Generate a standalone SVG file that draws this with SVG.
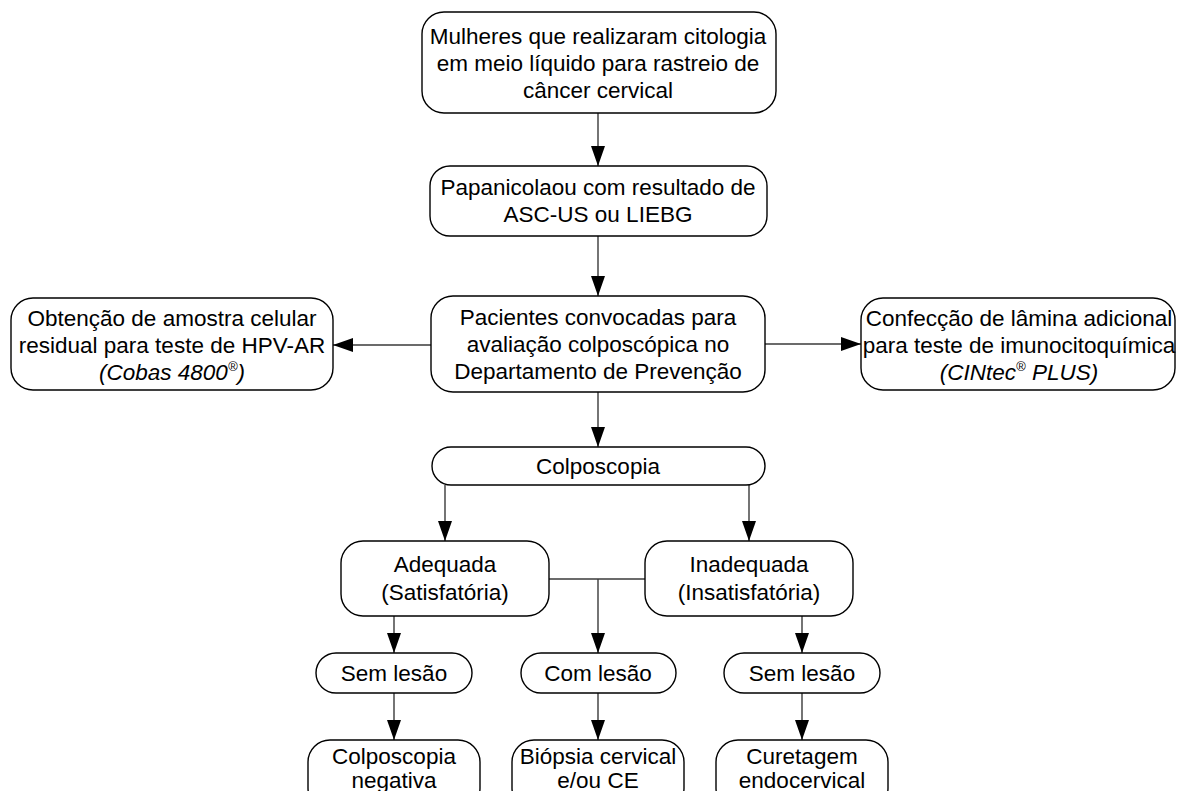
<svg xmlns="http://www.w3.org/2000/svg" width="1178" height="791" viewBox="0 0 1178 791">
<defs>
<style>
.box{fill:#fff;stroke:#000;stroke-width:1.4}
.t{font-family:"Liberation Sans",Arial,sans-serif;font-size:22.5px;fill:#000;text-anchor:middle}
.i{font-style:italic}
.c{fill:none;stroke:#3a3a3a;stroke-width:1.4}
</style>
<marker id="ah" viewBox="0 0 20 14" refX="20" refY="7" markerWidth="20" markerHeight="14" markerUnits="userSpaceOnUse" orient="auto">
<path d="M0,0 L20,7 L0,14 z" fill="#000"/>
</marker>
</defs>
<rect width="1178" height="791" fill="#fff"/>
<g id="connectors">
<path class="c" d="M598,113 V166" marker-end="url(#ah)"/>
<path class="c" d="M598,236 V296" marker-end="url(#ah)"/>
<path class="c" d="M431,345 H333" marker-end="url(#ah)"/>
<path class="c" d="M765,344 H861" marker-end="url(#ah)"/>
<path class="c" d="M598,392 V447" marker-end="url(#ah)"/>
<path class="c" d="M445,485 V541" marker-end="url(#ah)"/>
<path class="c" d="M749,485 V541" marker-end="url(#ah)"/>
<path class="c" d="M549,579 H645"/>
<path class="c" d="M598,579 V653" marker-end="url(#ah)"/>
<path class="c" d="M394,616 V653" marker-end="url(#ah)"/>
<path class="c" d="M802,616 V653" marker-end="url(#ah)"/>
<path class="c" d="M394,693 V740" marker-end="url(#ah)"/>
<path class="c" d="M598,693 V740" marker-end="url(#ah)"/>
<path class="c" d="M802,693 V740" marker-end="url(#ah)"/>
</g>
<g id="n1">
<rect class="box" x="422" y="12" width="354" height="101" rx="22"/>
<text class="t" x="598" y="44">Mulheres que realizaram citologia</text>
<text class="t" x="598" y="71">em meio líquido para rastreio de</text>
<text class="t" x="598" y="98">câncer cervical</text>
</g>
<g id="n2">
<rect class="box" x="430" y="166" width="337" height="70" rx="20"/>
<text class="t" x="598" y="195">Papanicolaou com resultado de</text>
<text class="t" x="598" y="222">ASC-US ou LIEBG</text>
</g>
<g id="n3">
<rect class="box" x="431" y="296" width="334" height="96" rx="22"/>
<text class="t" x="598" y="325">Pacientes convocadas para</text>
<text class="t" x="598" y="352">avaliação colposcópica no</text>
<text class="t" x="598" y="379">Departamento de Prevenção</text>
</g>
<g id="n4">
<rect class="box" x="11" y="298" width="322" height="92" rx="22"/>
<text class="t" x="172" y="326">Obtenção de amostra celular</text>
<text class="t" x="172" y="353">residual para teste de HPV-AR</text>
<text class="t i" x="172" y="380">(Cobas 4800<tspan font-size="13" dy="-9">®</tspan><tspan dy="9">)</tspan></text>
</g>
<g id="n5">
<rect class="box" x="861" y="298" width="314" height="92" rx="22"/>
<text class="t" x="1019" y="326">Confecção de lâmina adicional</text>
<text class="t" x="1019" y="353">para teste de imunocitoquímica</text>
<text class="t i" x="1019" y="380">(CINtec<tspan font-size="13" dy="-9">®</tspan><tspan dy="9"> PLUS)</tspan></text>
</g>
<g id="n6">
<rect class="box" x="432" y="447" width="333" height="38" rx="19"/>
<text class="t" x="598" y="474">Colposcopia</text>
</g>
<g id="n7">
<rect class="box" x="341" y="541" width="208" height="75" rx="22"/>
<text class="t" x="445" y="572">Adequada</text>
<text class="t" x="445" y="600">(Satisfatória)</text>
</g>
<g id="n8">
<rect class="box" x="645" y="541" width="208" height="75" rx="22"/>
<text class="t" x="749" y="572">Inadequada</text>
<text class="t" x="749" y="600">(Insatisfatória)</text>
</g>
<g id="n9">
<rect class="box" x="316" y="653" width="156" height="40" rx="20"/>
<text class="t" x="394" y="681">Sem lesão</text>
</g>
<g id="n10">
<rect class="box" x="521" y="653" width="155" height="40" rx="20"/>
<text class="t" x="598" y="681">Com lesão</text>
</g>
<g id="n11">
<rect class="box" x="724" y="653" width="156" height="40" rx="20"/>
<text class="t" x="802" y="681">Sem lesão</text>
</g>
<g id="n12">
<rect class="box" x="308" y="740" width="172" height="70" rx="22"/>
<text class="t" x="394" y="764">Colposcopia</text>
<text class="t" x="394" y="788">negativa</text>
</g>
<g id="n13">
<rect class="box" x="512" y="740" width="172" height="70" rx="22"/>
<text class="t" x="598" y="764">Biópsia cervical</text>
<text class="t" x="598" y="788">e/ou CE</text>
</g>
<g id="n14">
<rect class="box" x="716" y="740" width="172" height="70" rx="22"/>
<text class="t" x="802" y="764">Curetagem</text>
<text class="t" x="802" y="788">endocervical</text>
</g>
</svg>
